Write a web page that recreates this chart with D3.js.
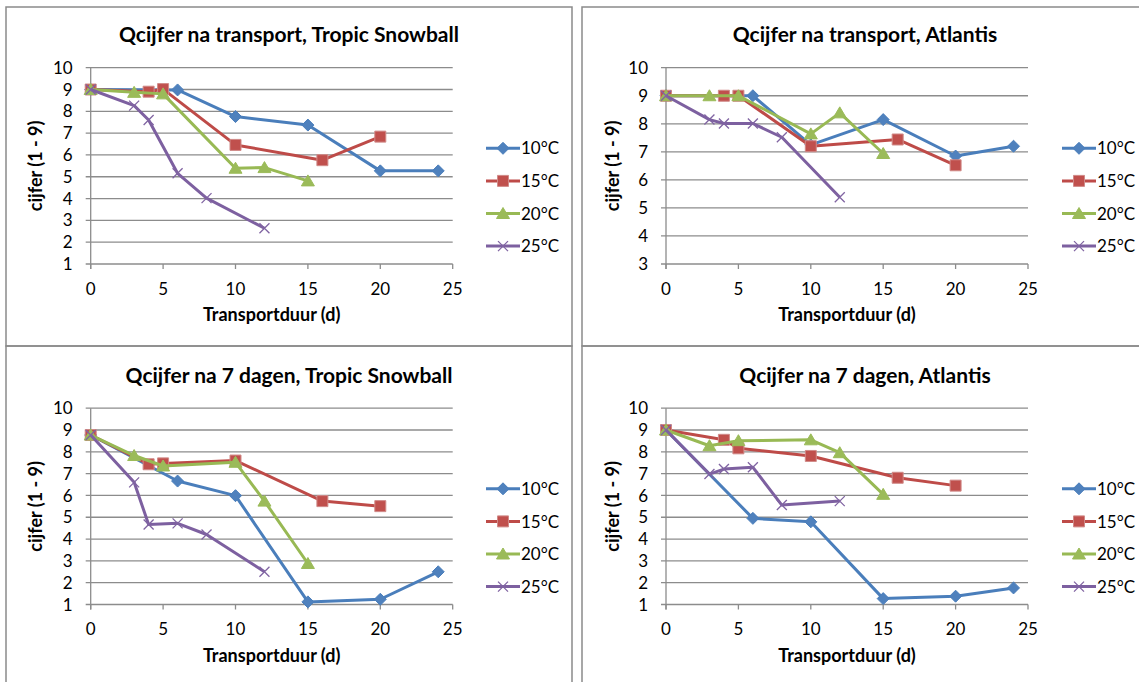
<!DOCTYPE html>
<meta charset="utf-8">
<head>
  <title>Qcijfer na transport</title>
</head>
<body>
<style>
  body { margin: 0; background: #fff; }
  svg text { font-family: Lato, "Open Sans", sans-serif; fill: #000; }
  .title { font-size: 21px; font-weight: bold; text-anchor: middle; }
  .axis-title { font-size: 18px; font-weight: bold; text-anchor: middle; }
  .tick-label { font-size: 17px; }
  .legend-label { font-size: 17px; }
  .frame { fill: none; stroke: #8a8a8a; stroke-width: 1.5px; }
  .grid line, .axis-line { stroke: #8c8c8c; stroke-width: 1.3px; }
  .series { fill: none; stroke-width: 3px; stroke-linejoin: round; }
</style>
<svg id="chart" width="1139" height="682"></svg>
<script src="https://cdn.jsdelivr.net/npm/d3@7"></script>
<script>

var temps = ["10°C", "15°C", "20°C", "25°C"];
var xTicks = [0, 5, 10, 15, 20, 25];

// Qcijfer na transport, Tropic Snowball  [dagen, cijfer]
var snowTrans10 = [[0, 9], [6, 8.98], [10, 7.76], [15, 7.37], [20, 5.27], [24, 5.27]];
var snowTrans15 = [[0, 9], [4, 8.9], [5, 9.02], [10, 6.46], [16, 5.76], [20, 6.84]];
var snowTrans20 = [[0, 9], [3, 8.87], [5, 8.8], [10, 5.39], [12, 5.42], [15, 4.81]];
var snowTrans25 = [[0, 9], [3, 8.26], [4, 7.6], [6, 5.16], [8, 4.02], [12, 2.64]];

// Qcijfer na transport, Atlantis
var atlTrans10 = [[0, 9], [6, 9], [10, 7.25], [15, 8.15], [20, 6.85], [24, 7.2]];
var atlTrans15 = [[0, 9], [4, 9], [5, 9], [10, 7.2], [16, 7.44], [20, 6.52]];
var atlTrans20 = [[0, 9], [3, 9], [5, 9], [10, 7.64], [12, 8.39], [15, 6.94]];
var atlTrans25 = [[0, 9], [3, 8.15], [4, 8.01], [6, 8.01], [8, 7.52], [12, 5.38]];

// Qcijfer na 7 dagen, Tropic Snowball
var snow7d10 = [[0, 8.77], [6, 6.66], [10, 5.99], [15, 1.12], [20, 1.24], [24, 2.5]];
var snow7d15 = [[0, 8.77], [4, 7.43], [5, 7.47], [10, 7.6], [16, 5.74], [20, 5.51]];
var snow7d20 = [[0, 8.77], [3, 7.83], [5, 7.35], [10, 7.52], [12, 5.74], [15, 2.88]];
var snow7d25 = [[0, 8.77], [3, 6.6], [4, 4.67], [6, 4.72], [8, 4.21], [12, 2.5]];

// Qcijfer na 7 dagen, Atlantis
var atl7d10 = [[0, 9], [6, 4.95], [10, 4.79], [15, 1.27], [20, 1.38], [24, 1.76]];
var atl7d15 = [[0, 9], [4, 8.55], [5, 8.16], [10, 7.81], [16, 6.81], [20, 6.45]];
var atl7d20 = [[0, 9], [3, 8.28], [5, 8.51], [10, 8.55], [12, 7.96], [15, 6.05]];
var atl7d25 = [[0, 9], [3, 6.98], [4, 7.21], [6, 7.29], [8, 5.56], [12, 5.74]];

var panels = [
  { title: "Qcijfer na transport, Tropic Snowball", col: 0, row: 0, yMin: 1,
    series: [snowTrans10, snowTrans15, snowTrans20, snowTrans25] },
  { title: "Qcijfer na transport, Atlantis", col: 1, row: 0, yMin: 3,
    series: [atlTrans10, atlTrans15, atlTrans20, atlTrans25] },
  { title: "Qcijfer na 7 dagen, Tropic Snowball", col: 0, row: 1, yMin: 1,
    series: [snow7d10, snow7d15, snow7d20, snow7d25] },
  { title: "Qcijfer na 7 dagen, Atlantis", col: 1, row: 1, yMin: 1,
    series: [atl7d10, atl7d15, atl7d20, atl7d25] }
];

var lineColors = ["#4a7ebb", "#be4b48", "#98b954", "#7d60a0"];
var markerFill = ["#4f81bd", "#c0504d", "#9bbb59", "none"];
var markerStroke = ["#4a7ebb", "#d08a88", "#9bbb59", "#8064a2"];

// marker shapes, Excel style
var markerPaths = [
  "M0,-6L6,0L0,6L-6,0Z",
  "M-5.5,-5.5H5.5V5.5H-5.5Z",
  "M0,-6L6.5,5L-6.5,5Z",
  "M-5,-5L5,5M-5,5L5,-5"
];

var colOffset = 575.3, rowOffset = 340.5;
var plotLeft = 90.7, plotTop = 67.7, plotW = 362, plotH = 196.3;

var svg = d3.select("#chart");

panels.forEach(drawPanel);

function drawPanel(p) {
  var ox = p.col * colOffset, oy = p.row * rowOffset;

  // chart frame
  svg.append("rect")
      .attr("class", "frame")
      .attr("x", 6 + p.col * 576)
      .attr("y", 7 + p.row * 339)
      .attr("width", 566)
      .attr("height", 339 + p.row * 10);

  var g = svg.append("g")
      .attr("transform", "translate(" + (plotLeft + ox) + "," + (plotTop + oy) + ")");

  var x = d3.scaleLinear().domain([0, 25]).range([0, plotW]);
  var y = d3.scaleLinear().domain([p.yMin, 10]).range([plotH, 0]);
  var yTicks = d3.range(p.yMin, 11);

  g.append("g")
      .attr("class", "grid")
    .selectAll("line")
      .data(yTicks)
    .enter().append("line")
      .attr("x1", -5)
      .attr("x2", plotW)
      .attr("y1", function(d) { return y(d); })
      .attr("y2", function(d) { return y(d); });

  g.append("line")
      .attr("class", "axis-line")
      .attr("x1", 0).attr("x2", 0)
      .attr("y1", 0).attr("y2", plotH + 5);

  g.selectAll(".xtick")
      .data(xTicks)
    .enter().append("line")
      .attr("class", "axis-line")
      .attr("x1", function(d) { return x(d); })
      .attr("x2", function(d) { return x(d); })
      .attr("y1", plotH)
      .attr("y2", plotH + 5);

  g.selectAll(".ylab")
      .data(yTicks)
    .enter().append("text")
      .attr("class", "tick-label")
      .attr("x", -18)
      .attr("y", function(d) { return y(d); })
      .attr("dy", "0.36em")
      .attr("text-anchor", "end")
      .text(function(d) { return d; });

  g.selectAll(".xlab")
      .data(xTicks)
    .enter().append("text")
      .attr("class", "tick-label")
      .attr("x", function(d) { return x(d); })
      .attr("y", plotH + 31)
      .attr("text-anchor", "middle")
      .text(function(d) { return d; });

  var line = d3.line()
      .x(function(d) { return x(d[0]); })
      .y(function(d) { return y(d[1]); });

  p.series.forEach(function(s, i) {
    g.append("path")
        .datum(s)
        .attr("class", "series")
        .attr("stroke", lineColors[i])
        .attr("d", line);

    g.selectAll(".m" + i)
        .data(s)
      .enter().append("path")
        .attr("transform", function(d) { return "translate(" + x(d[0]) + "," + y(d[1]) + ")"; })
        .attr("d", markerPaths[i])
        .attr("fill", markerFill[i])
        .attr("stroke", markerStroke[i])
        .attr("stroke-width", i == 3 ? 1.3 : 1);
  });

  // titles
  svg.append("text")
      .attr("class", "title")
      .attr("x", 289 + p.col * 576)
      .attr("y", 42 + oy)
      .text(p.title);

  svg.append("text")
      .attr("class", "axis-title")
      .attr("x", plotLeft + ox + plotW / 2)
      .attr("y", 321 + oy)
      .text("Transportduur (d)");

  var yt = p.col ? 613 : 36;
  svg.append("text")
      .attr("class", "axis-title")
      .attr("transform", "translate(" + (yt + 6) + "," + (plotTop + oy + plotH / 2) + ") rotate(-90)")
      .text("cijfer (1 - 9)");

  // legend
  var lg = svg.append("g")
      .attr("transform", "translate(" + (486 + p.col * 576) + "," + (148.3 + oy) + ")");

  temps.forEach(function(t, i) {
    var row = lg.append("g").attr("transform", "translate(0," + (i * 32.6) + ")");
    row.append("line")
        .attr("x1", 0).attr("x2", 34)
        .attr("stroke", lineColors[i])
        .attr("stroke-width", 3);
    row.append("path")
        .attr("transform", "translate(17,0)")
        .attr("d", markerPaths[i])
        .attr("fill", markerFill[i])
        .attr("stroke", markerStroke[i])
        .attr("stroke-width", i == 3 ? 1.3 : 1);
    row.append("text")
        .attr("class", "legend-label")
        .attr("x", 35)
        .attr("dy", "0.36em")
        .text(t);
  });
}

</script>
</body>
